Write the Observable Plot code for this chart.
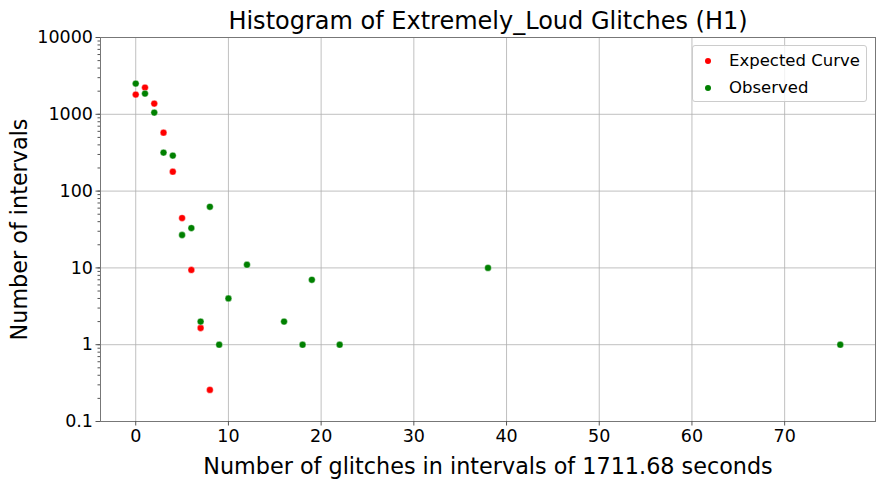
<!DOCTYPE html>
<html><head><meta charset="utf-8">
<script src="https://cdn.jsdelivr.net/npm/d3@7"></script>
<script src="https://cdn.jsdelivr.net/npm/@observablehq/plot@0.6"></script>
<style>
body{margin:0;background:#fff;}
#wrap{position:relative;width:885px;height:486px;font-family:"DejaVu Sans",sans-serif;}
.legend{position:absolute;left:692px;top:45px;width:175px;height:57px;box-sizing:border-box;border:1px solid #cccccc;border-radius:3px;background:rgba(255,255,255,0.8);font-size:16.5px;color:#000;}
.legend .dot{position:absolute;left:12px;width:6px;height:6px;border-radius:50%;}
.legend .lab{position:absolute;left:36px;line-height:20px;white-space:nowrap;}
</style>
</head><body>
<div id="wrap"></div>
<script>
const title = "Histogram of Extremely_Loud Glitches (H1)";
const xLabel = "Number of glitches in intervals of 1711.68 seconds";
const yLabel = "Number of intervals";
const seriesNames = ["Expected Curve", "Observed"];
const seriesColors = ["red", "green"];

const expectedX = [0, 1, 2, 3, 4, 5, 6, 7, 8];
const expectedY = [1807, 2228, 1379, 577, 179, 44.6, 9.4, 1.65, 0.258];

const observedX = [0, 1, 2, 3, 4, 5, 6, 7, 8, 9, 10, 12, 16, 18, 19, 22, 38, 76];
const observedY = [2513, 1861, 1052, 317, 290, 26.8, 33, 2, 62.5, 1, 4, 11, 2, 1, 7, 1, 10, 1];

const xTicks = [0, 10, 20, 30, 40, 50, 60, 70];
const yTicks = [0.1, 1, 10, 100, 1000, 10000];

const expected = expectedX.map((x, i) => ({x, y: expectedY[i]}));
const observed = observedX.map((x, i) => ({x, y: observedY[i]}));

const gridStyle = {stroke: "#b0b0b0", strokeOpacity: 1, strokeWidth: 0.8};
const tickColor = "#555";

const chart = Plot.plot({
  width: 885,
  height: 486,
  marginLeft: 100,
  marginRight: 10,
  marginTop: 37,
  marginBottom: 65,
  style: {fontFamily: "DejaVu Sans, sans-serif", fontSize: "17px", color: "#000", background: "#fff"},
  x: {domain: [-3.8, 79.8]},
  y: {type: "log", domain: [0.1, 10000]},
  marks: [
    Plot.gridX({ticks: xTicks, ...gridStyle}),
    Plot.gridY({ticks: yTicks, ...gridStyle}),
    Plot.frame({stroke: "#777", strokeWidth: 1}),
    Plot.dot(expected, {x: "x", y: "y", r: 3.4, fill: seriesColors[0], stroke: "white", strokeWidth: 0.4}),
    Plot.dot(observed, {x: "x", y: "y", r: 3.4, fill: seriesColors[1], stroke: "white", strokeWidth: 0.4}),
    Plot.axisX({ticks: xTicks, tickSize: 4.5, tickPadding: 4, stroke: tickColor, fontSize: 17.5, label: null, tickFormat: d => String(d)}),
    Plot.axisY({ticks: yTicks, tickSize: 4.5, tickPadding: 3, stroke: tickColor, fontSize: 17.5, label: null,
      tickFormat: d => d < 1 ? String(d) : d3.format("d")(d)}),
    Plot.axisY({tickSize: 2.5, stroke: tickColor, tickFormat: () => "", label: null}),
    Plot.text([title], {frameAnchor: "top", lineAnchor: "middle", dy: -16, fontSize: 24, fill: "#000"}),
    Plot.text([xLabel], {frameAnchor: "bottom", lineAnchor: "middle", dy: 45, fontSize: 22.3, fill: "#000"}),
    Plot.text([yLabel], {frameAnchor: "left", lineAnchor: "middle", textAnchor: "middle", dx: -81, rotate: -90, fontSize: 22.3, fill: "#000"})
  ]
});

const wrap = document.getElementById("wrap");
wrap.appendChild(chart);

const legend = document.createElement("div");
legend.className = "legend";
seriesNames.forEach((name, i) => {
  const top = 5 + i * 27;
  const dot = document.createElement("span");
  dot.className = "dot";
  dot.style.top = (top + 7) + "px";
  dot.style.background = seriesColors[i];
  const lab = document.createElement("span");
  lab.className = "lab";
  lab.style.top = top + "px";
  lab.textContent = name;
  legend.appendChild(dot);
  legend.appendChild(lab);
});
wrap.appendChild(legend);
</script>
</body></html>
